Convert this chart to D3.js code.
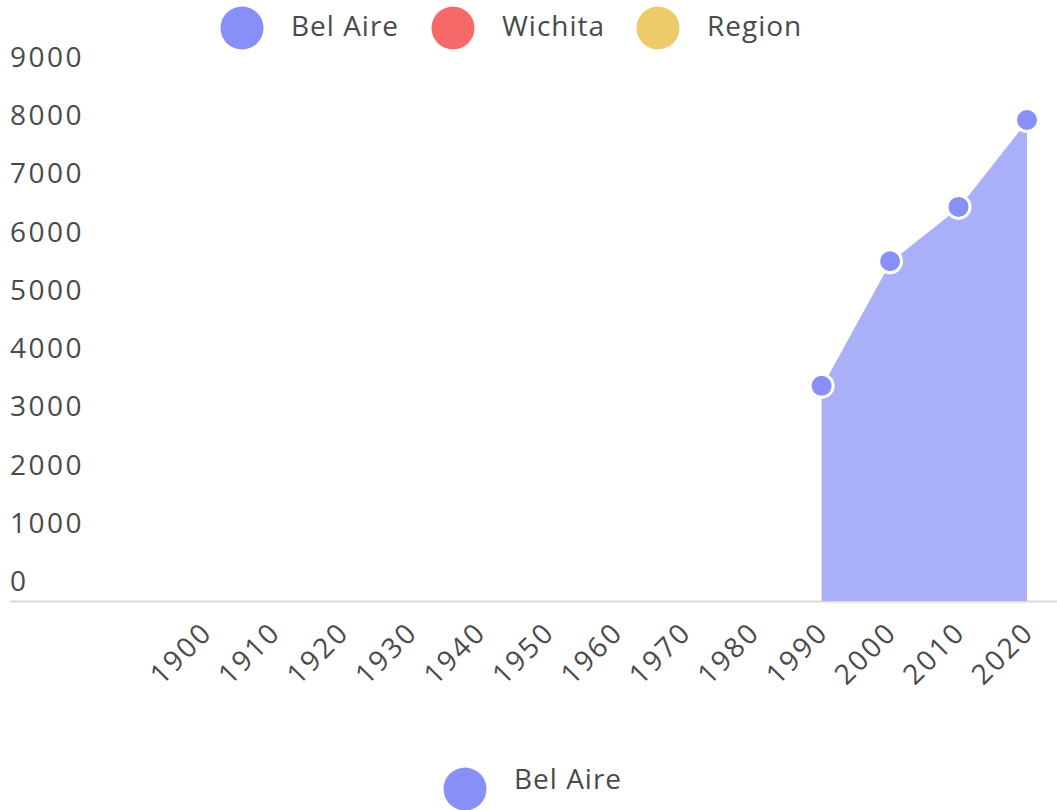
<!DOCTYPE html>
<html>
<head>
<meta charset="utf-8">
<script src="https://cdn.jsdelivr.net/npm/d3@7"></script>
<style>
  body { margin: 0; background: #fff; }
  text { font-family: "Open Sans", "Lato", sans-serif; fill: #4a4a4a; }
</style>
</head>
<body>
<div id="chart-area"></div>
<script>
// population data, Bel Aire (only series with values)
var years = ["1900","1910","1920","1930","1940","1950","1960","1970","1980","1990","2000","2010","2020"]
var belAire = [null,null,null,null,null,null,null,null,null,3695,5836,6769,8262]
var yTicks = [0,1000,2000,3000,4000,5000,6000,7000,8000,9000]
var seriesNames = ["Bel Aire","Wichita","Region"]
var seriesColors = ["#8890f8","#f86a6a","#eecb6a"]

var W = 1057, H = 810
var fs = "28px"

var svg = d3.select("#chart-area")
	.append("svg")
	.attr("width", W)
	.attr("height", H)

var x = d3.scalePoint()
	.domain(years)
	.range([205.5, 1027])

var y = d3.scaleLinear()
	.domain([0, 9000])
	.range([601, 77])

// y labels (no axis line)
svg.append("g").selectAll("text")
	.data(yTicks)
	.enter()
	.append("text")
	.attr("x", 10)
	.attr("y", function (d) { return y(d) - 10 })
	.attr("font-size", fs)
	.attr("letter-spacing", "2.5px")
	.text(function (d) { return d })

// baseline
svg.append("line")
	.attr("x1", 10).attr("x2", W)
	.attr("y1", 601.5).attr("y2", 601.5)
	.attr("stroke", "#d9d9d9")
	.attr("stroke-width", 2)

// x labels
var xAxis = d3.axisBottom(x).tickSize(0).tickPadding(0)
var gx = svg.append("g")
	.attr("transform", "translate(0,602)")
	.call(xAxis)
gx.select(".domain").remove()
gx.selectAll("text")
	.attr("font-size", fs)
	.attr("fill", "#4a4a4a")
	.attr("style", "font-family: 'Open Sans', Lato, sans-serif")
	.attr("letter-spacing", "2.5px")
	.attr("text-anchor", "end")
	.attr("dy", 0)
	.attr("y", 0)
	.attr("x", 0)
	.attr("transform", "translate(8,32) rotate(-45)")

var pts = years.map(function (d, i) { return { year: d, v: belAire[i] } })
	.filter(function (d) { return d.v != null })

var area = d3.area()
	.x(function (d) { return x(d.year) })
	.y0(y(0))
	.y1(function (d) { return y(d.v) })

svg.append("path")
	.datum(pts)
	.attr("d", area)
	.attr("fill", "#aab0f8")

var line = d3.line()
	.x(function (d) { return x(d.year) })
	.y(function (d) { return y(d.v) })

svg.append("path")
	.datum(pts)
	.attr("d", line)
	.attr("fill", "none")
	.attr("stroke", "#fff")
	.attr("stroke-width", 2)

svg.append("g").selectAll("circle")
	.data(pts)
	.enter()
	.append("circle")
	.attr("cx", function (d) { return x(d.year) })
	.attr("cy", function (d) { return y(d.v) })
	.attr("r", 11.5)
	.attr("fill", "#8890f8")
	.attr("stroke", "#fff")
	.attr("stroke-width", 3)

// top legend
var legX = [242, 453, 658]
var leg = svg.append("g").selectAll("g")
	.data(seriesNames)
	.enter()
	.append("g")
	.attr("transform", function (d, i) { return "translate(" + legX[i] + ",28)" })
leg.append("circle")
	.attr("r", 21.5)
	.attr("fill", function (d, i) { return seriesColors[i] })
leg.append("text")
	.attr("x", 49)
	.attr("y", 8)
	.attr("font-size", fs)
	.attr("letter-spacing", "1px")
	.text(function (d) { return d })

// bottom legend
var leg2 = svg.append("g")
	.attr("transform", "translate(465,789)")
leg2.append("circle")
	.attr("r", 21.5)
	.attr("fill", seriesColors[0])
leg2.append("text")
	.attr("x", 49)
	.attr("y", 0)
	.attr("font-size", fs)
	.attr("letter-spacing", "1px")
	.text(seriesNames[0])
</script>
</body>
</html>
